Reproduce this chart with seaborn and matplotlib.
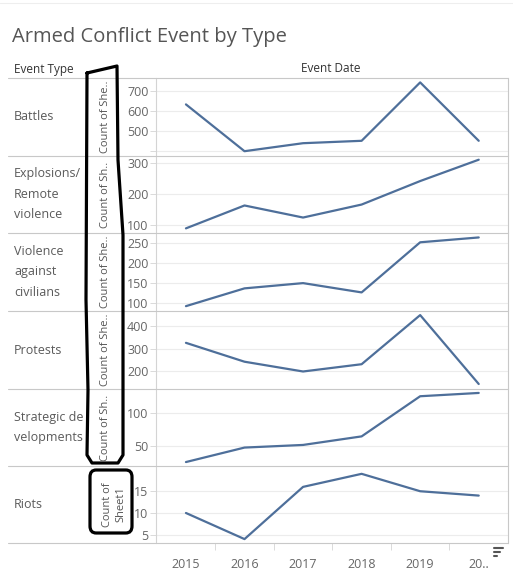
import matplotlib
matplotlib.use("Agg")
import matplotlib.pyplot as plt
from matplotlib.lines import Line2D
from matplotlib.patches import FancyBboxPatch
import seaborn as sns
import pandas as pd

# ---- data ----
years = [2015, 2016, 2017, 2018, 2019, 2020]
year_labels = ["2015", "2016", "2017", "2018", "2019", "20.."]
event_types = ["Battles", "Explosions/\nRemote\nviolence", "Violence\nagainst\ncivilians",
               "Protests", "Strategic de\nvelopments", "Riots"]
axis_titles = ["Count of She..", "Count of Sh..", "Count of She..", "Count of She..",
               "Count of Sh..", "Count of\nSheet1"]
battles = [632, 398, 438, 450, 742, 450]
explosions = [89, 163, 124, 166, 242, 311]
violence = [93, 137, 150, 127, 251, 263]
protests = [326, 243, 200, 232, 448, 145]
strategic = [26, 48, 52, 65, 126, 131]
riots = [10, 4, 16, 19, 15, 14]
series = [battles, explosions, violence, protests, strategic, riots]
ylims = [(374, 764), (74, 323), (81, 274), (123, 466), (20, 137), (3.1, 20.8)]
ticks = [[400, 500, 600, 700], [100, 200, 300], [100, 150, 200, 250],
         [200, 300, 400], [50, 100], [5, 10, 15]]
tick_labels = [["", "500", "600", "700"], ["100", "200", "300"], ["100", "150", "200", "250"],
               ["200", "300", "400"], ["50", "100"], ["5", "10", "15"]]

W, H = 513, 578
sns.set_theme(style="white")
plt.rcParams['font.family'] = ['Open Sans', 'DejaVu Sans']

fig = plt.figure(figsize=(W / 100, H / 100), dpi=100)

def fx(x):
    return x / W

def fy(y):
    return 1 - y / H

rows = [78, 156, 233, 311, 389, 466, 543]
left_px, right_px = 155.5, 508
line_color = "#4e6f9a"
grid_c = "#ececec"
sep_c = "#c8c8c8"
txt_c = "#666666"

for i in range(6):
    top, bot = rows[i], rows[i + 1]
    ax = fig.add_axes([fx(left_px), fy(bot), fx(right_px - left_px), (bot - top) / H])
    df = pd.DataFrame({"year": years, "count": series[i]})
    sns.lineplot(data=df, x="year", y="count", ax=ax, color=line_color, linewidth=1.6)
    ax.set_xlim(2014.48, 2020.5)
    ax.set_ylim(*ylims[i])
    ax.set_yticks(ticks[i])
    ax.set_yticklabels(tick_labels[i])
    ax.set_xlabel("")
    ax.set_ylabel("")
    ax.grid(axis="y", color=grid_c, linewidth=0.8)
    ax.set_axisbelow(True)
    for s in ["top", "bottom"]:
        ax.spines[s].set_visible(False)
    ax.spines["left"].set_color("#d4d4d4")
    ax.spines["right"].set_color(sep_c)
    ax.spines["left"].set_linewidth(0.8)
    ax.spines["right"].set_linewidth(0.8)
    ax.tick_params(axis="y", which="major", left=True, length=4, width=0.6, color="#d4d4d4",
                   labelsize=9, labelcolor=txt_c, pad=1)
    if i < 5:
        ax.set_xticks([])
    else:
        ax.set_xticks(years)
        ax.set_xticklabels(year_labels)
        ax.set_xticks([y + 0.5 for y in years[:-1]], minor=True)
        ax.tick_params(axis="x", which="major", bottom=False, labelsize=9, labelcolor=txt_c, pad=5)
        ax.tick_params(axis="x", which="minor", bottom=True, length=5, width=0.6, color="#d4d4d4")
    # row label
    fig.text(fx(14), fy((top + bot) / 2), event_types[i], ha="left", va="center",
             fontsize=9, color="#5a5a5a", linespacing=1.75)
    # axis title
    fig.text(fx(105 if i < 5 else 114.5), fy((top + bot) / 2), axis_titles[i], ha="center",
             va="center", rotation=90, fontsize=8, color="#555555", linespacing=1.35)

# separator lines
for r in rows:
    fig.add_artist(Line2D([fx(8), fx(508)], [fy(r), fy(r)], color=sep_c, linewidth=0.8))
fig.add_artist(Line2D([0, 1], [fy(2.5), fy(2.5)], color="#eeeeee", linewidth=0.8))

# title and headers
fig.text(fx(12), fy(37), "Armed Conflict Event by Type", ha="left", va="center",
         fontsize=14.5, color="#555555")
fig.text(fx(14), fy(70), "Event Type", ha="left", va="center", fontsize=8.5, color="#333333")
fig.text(fx(331), fy(69), "Event Date", ha="center", va="center", fontsize=8.5, color="#333333")

# sort icon
for k, (l, yy) in enumerate([(9, 548), (6, 552), (3, 556)]):
    fig.add_artist(Line2D([fx(494), fx(494 + l)], [fy(yy), fy(yy)], color="#555555", linewidth=1.5))

# hand-drawn annotation outlines
px = [87, 117, 118, 123, 123, 118, 92, 87, 88, 86, 87]
py = [73, 66, 160, 235, 455, 463, 463, 455, 390, 300, 73]
fig.add_artist(Line2D([fx(v) for v in px], [fy(v) for v in py], color="black", linewidth=2.3,
                      solid_joinstyle="round", solid_capstyle="round"))
box = FancyBboxPatch((fx(90), fy(533)), fx(42), (533 - 470) / H,
                     boxstyle="round,pad=0,rounding_size=0.012", transform=fig.transFigure,
                     fill=False, edgecolor="black", linewidth=2.3)
fig.add_artist(box)

fig.savefig("out.png", dpi=100)
